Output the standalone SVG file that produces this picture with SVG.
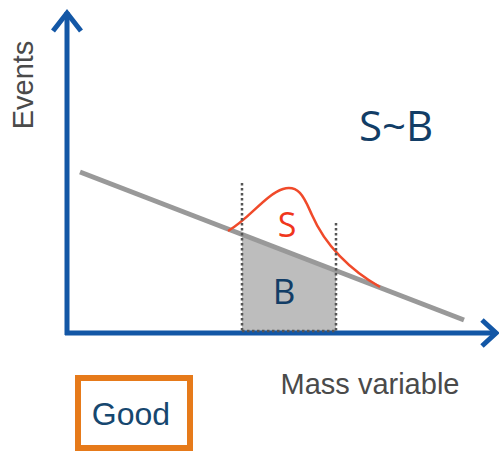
<svg xmlns="http://www.w3.org/2000/svg" width="499" height="451" viewBox="0 0 499 451">
<style>
.axis{stroke:#1357a6;stroke-width:5;fill:none;stroke-linecap:butt}
.head{stroke:#1357a6;stroke-width:5;fill:none;stroke-linecap:butt;stroke-linejoin:miter}
.dot{stroke:#555;stroke-width:2.5;stroke-dasharray:2.5 2.5;fill:none}
.lbl{font-family:"Liberation Sans",Arial,sans-serif;fill:#4a4a4a}
.dark{font-family:"Open Sans","Liberation Sans",sans-serif;fill:#123d66}
</style>
<rect width="499" height="451" fill="#fff"/>
<g id="area">
<polygon points="242,234 336,270 336,332 242,332" fill="#bdbdbd"/>
</g>
<g id="connectors">
<line class="axis" x1="67" y1="12" x2="67" y2="335"/>
<polyline class="head" points="53,31 67,13 81,31"/>
<line class="axis" x1="65" y1="333" x2="494" y2="333"/>
<polyline class="head" points="482,320 496,333 482,346"/>
<line x1="80" y1="172" x2="464" y2="320" stroke="#999" stroke-width="5"/>
<path d="M228,231 C250,218 265,195 283,189 C300,184 305,200 312,215 C325,245 350,270 380,287" fill="none" stroke="#f04a2a" stroke-width="2.5"/>
<line class="dot" x1="242" y1="183" x2="242" y2="332"/>
<line class="dot" x1="336" y1="223" x2="336" y2="332"/>
<line class="dot" x1="242" y1="331" x2="336" y2="331"/>
</g>
<g id="labels">
<text class="lbl" x="0" y="0" font-size="29" transform="translate(33,85) rotate(-90)" text-anchor="middle">Events</text>
<text class="dark" x="396" y="141" font-size="42" text-anchor="middle">S~B</text>
<text x="287" y="237" font-size="34" text-anchor="middle" fill="#f0361c" font-family="Open Sans,Liberation Sans,sans-serif">S</text>
<text class="dark" x="284" y="304" font-size="35" text-anchor="middle">B</text>
<text class="lbl" x="370" y="394" font-size="29" text-anchor="middle">Mass variable</text>
</g>
<g id="good">
<rect x="78" y="378" width="112" height="70" fill="#fff" stroke="#e67a1a" stroke-width="6"/>
<text x="131" y="425" font-size="32" text-anchor="middle" fill="#16476f" font-family="Liberation Sans,Arial,sans-serif">Good</text>
</g>
</svg>
